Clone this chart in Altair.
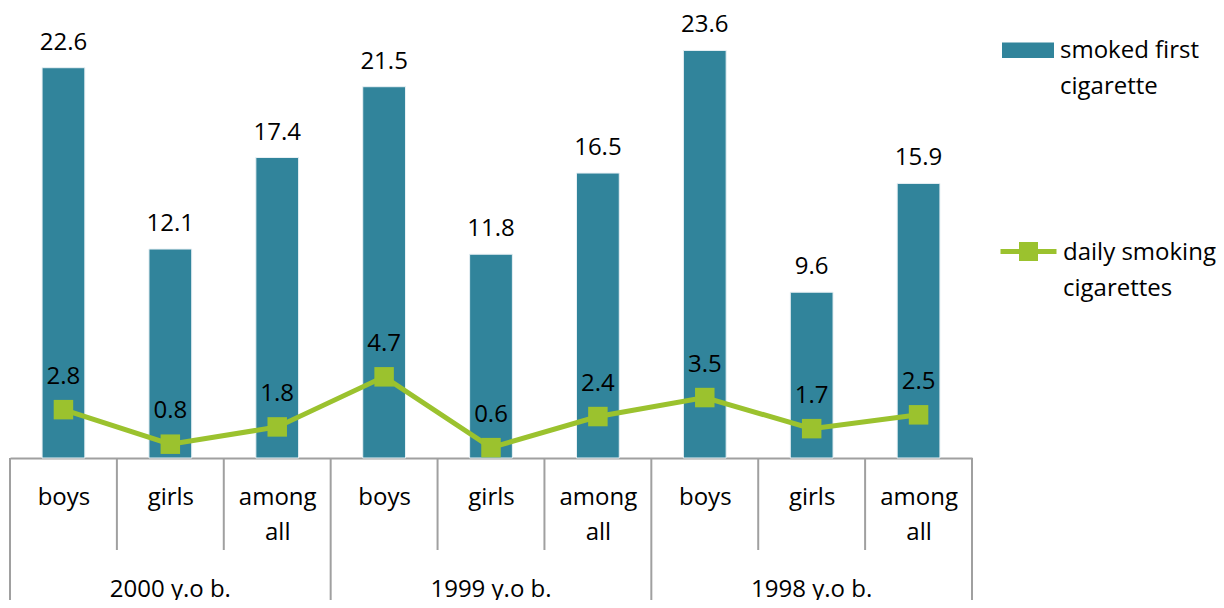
import altair as alt
import pandas as pd

categories = ["boys", "girls", "among all", "boys", "girls", "among all", "boys", "girls", "among all"]
groups = ["2000 y.o b.", "1999 y.o b.", "1998 y.o b."]
smoked_first = [22.6, 12.1, 17.4, 21.5, 11.8, 16.5, 23.6, 9.6, 15.9]
daily_smoking = [2.8, 0.8, 1.8, 4.7, 0.6, 2.4, 3.5, 1.7, 2.5]
series_names = ["smoked first cigarette", "daily smoking cigarettes"]

TEAL = "#31849B"
GREEN = "#9BC22E"
GRAY = "#A0A0A0"
FONT = "Open Sans"
FS = 24
W, H = 962, 449

n = len(categories)
df = pd.DataFrame({
    "idx": list(range(n)),
    "cat": categories,
    "first": smoked_first,
    "daily": daily_smoking,
    "s1": [series_names[0]] * n,
    "s2": [series_names[1]] * n,
})
df["x0"] = df["idx"] - 0.2
df["x1"] = df["idx"] + 0.2

grp_df = pd.DataFrame({"g": groups, "pos": [3 * i + 1 for i in range(len(groups))]})
inner_sep = pd.DataFrame({"pos": [i + 0.5 for i in range(n - 1) if (i + 1) % 3 != 0]})
outer_sep = pd.DataFrame({"pos": [3 * i - 0.5 for i in range(len(groups) + 1)]})

def lbl(c):
    parts = c.split(" ")
    if len(parts) > 1:
        return "[" + ",".join("'" + p + "'" for p in parts) + "]"
    return "'" + c + "'"

label_expr = "[" + ",".join(lbl(c) for c in categories) + "][datum.value]"

xscale = alt.Scale(domain=[-0.5, n - 0.5], nice=False, zero=False)
yscale = alt.Scale(domain=[0, 26], nice=False)

xaxis = alt.Axis(
    values=list(range(n)), labelExpr=label_expr, title=None, ticks=False, grid=False,
    domainColor=GRAY, domainWidth=2, labelFont=FONT, labelFontSize=FS, labelColor="black",
    labelPadding=27, labelLineHeight=35, labelBaseline="top", labelAngle=0,
    labelFlush=False, labelOverlap=False, labelBound=False,
)

base = alt.Chart(df)

bars = base.mark_bar(stroke="#E8F0F4", strokeWidth=1).encode(
    x=alt.X("x0:Q", scale=xscale, axis=xaxis),
    x2="x1:Q",
    y=alt.Y("first:Q", scale=yscale, axis=None),
    y2=alt.datum(0),
    color=alt.Color("s1:N", scale=alt.Scale(domain=[series_names[0]], range=[TEAL]),
                    legend=alt.Legend(
                        orient="none", legendX=992, legendY=23, title=None,
                        symbolType="M-1,-0.6H1V0H-1Z", symbolSize=2704,
                        symbolStrokeWidth=0, labelFont=FONT, labelFontSize=FS,
                        labelBaseline="alphabetic", labelOffset=6,
                        labelExpr="['smoked first','cigarette']", padding=0,
                        labelLimit=300,
                    )),
)

bar_text = base.mark_text(dy=-18, baseline="alphabetic", font=FONT, fontSize=FS, color="black").encode(
    x=alt.X("idx:Q", scale=xscale),
    y=alt.Y("first:Q", scale=yscale),
    text=alt.Text("first:Q", format=".1f"),
)

line = base.mark_line(strokeWidth=5, color=GREEN).encode(
    x=alt.X("idx:Q", scale=xscale),
    y=alt.Y("daily:Q", scale=yscale),
)

squares = base.mark_square(size=380, opacity=1, filled=True).encode(
    x=alt.X("idx:Q", scale=xscale),
    y=alt.Y("daily:Q", scale=yscale),
    color=alt.Color("s2:N", scale=alt.Scale(domain=[series_names[1]], range=[GREEN]),
                    legend=alt.Legend(
                        orient="none", legendX=988, legendY=220, title=None,
                        symbolType="M-1,-0.29H1M-0.25,-0.54H0.25V-0.04H-0.25Z", symbolSize=3136,
                        symbolFillColor=GREEN, symbolStrokeColor=GREEN, symbolStrokeWidth=5,
                        labelFont=FONT, labelFontSize=FS,
                        labelBaseline="alphabetic", labelOffset=4,
                        labelExpr="['daily smoking','cigarettes']", padding=0,
                        labelLimit=300,
                    )),
)

line_text = base.mark_text(dy=-26, baseline="alphabetic", font=FONT, fontSize=FS, color="black").encode(
    x=alt.X("idx:Q", scale=xscale),
    y=alt.Y("daily:Q", scale=yscale),
    text=alt.Text("daily:Q", format=".1f"),
)

inner_rules = alt.Chart(inner_sep).mark_rule(color=GRAY, strokeWidth=2).encode(
    x=alt.X("pos:Q", scale=xscale),
    y=alt.value(H),
    y2=alt.value(H + 92),
)

outer_rules = alt.Chart(outer_sep).mark_rule(color=GRAY, strokeWidth=2).encode(
    x=alt.X("pos:Q", scale=xscale),
    y=alt.value(H),
    y2=alt.value(H + 160),
)

group_text = alt.Chart(grp_df).mark_text(font=FONT, fontSize=FS, color="black", baseline="middle").encode(
    x=alt.X("pos:Q", scale=xscale),
    y=alt.value(H + 132),
    text="g:N",
)

chart = alt.layer(
    bars, line, squares, bar_text, line_text, inner_rules, outer_rules, group_text
).resolve_scale(color="independent").properties(
    width=W, height=H,
    autosize=alt.AutoSizeParams(type="none"),
    padding={"left": 2, "top": 1, "right": 244, "bottom": 142},
).configure(
    style={"guide-label": {"lineHeight": 36}},
).configure_view(stroke=None)

chart.save("out.html", embed_options={"renderer": "svg", "actions": False})
